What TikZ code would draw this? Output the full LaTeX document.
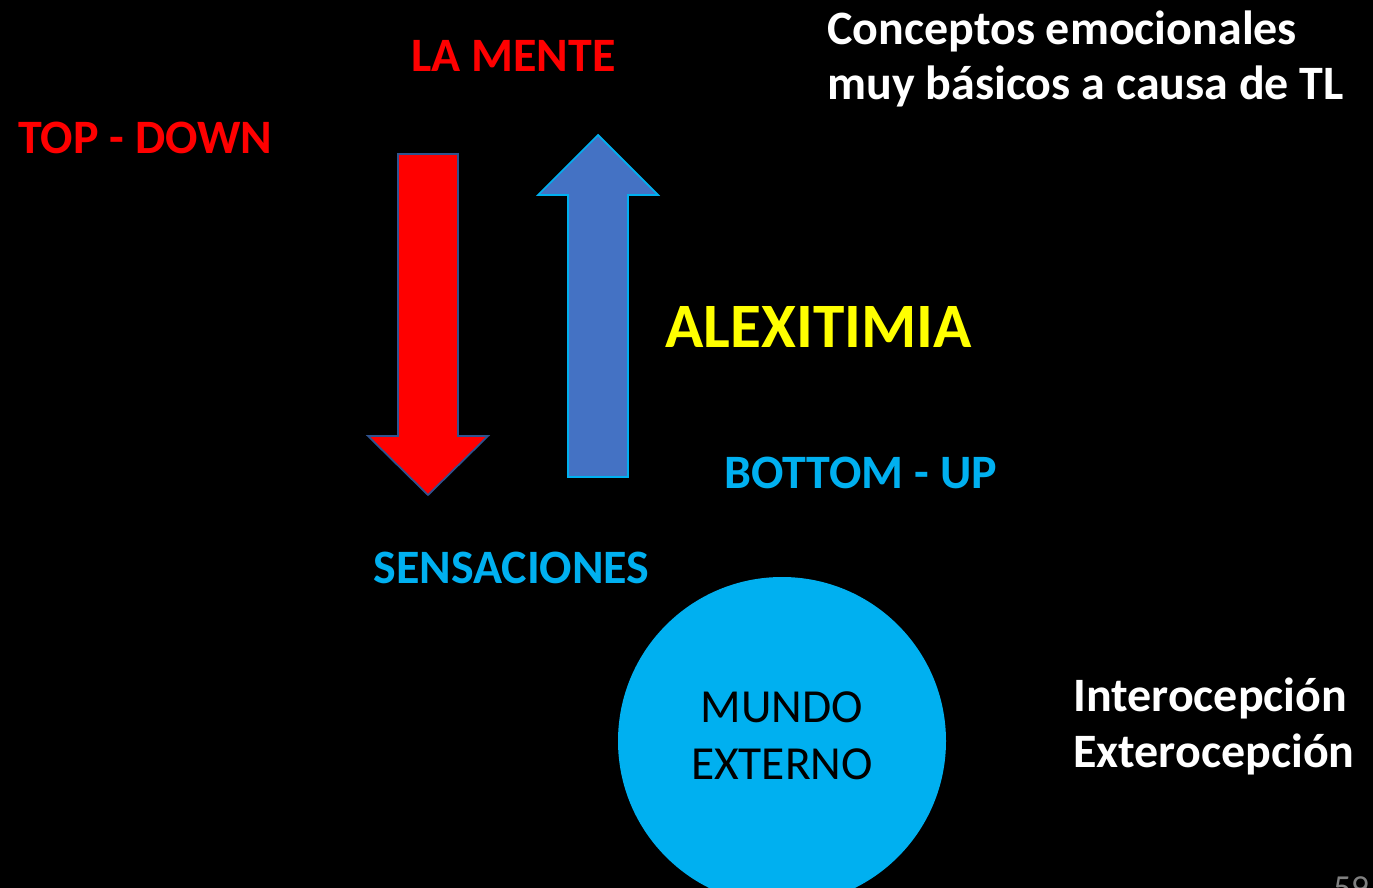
\documentclass[tikz,border=0pt]{standalone}
\usepackage{fontspec}
\setmainfont{Carlito}
\usepackage{xcolor}
\definecolor{celeste}{HTML}{00B0F0}
\definecolor{azularrow}{HTML}{4472C4}
\definecolor{bordeazul}{HTML}{2F528F}
\definecolor{amarillo}{HTML}{FFFF00}
\definecolor{rojo}{HTML}{FF0000}

\tikzset{
  titulo/.style={inner sep=0pt, anchor=base west, font=\fontsize{27.3}{32}\selectfont\bfseries},
  bloque/.style={titulo, align=left, font=\fontsize{27.3}{31.75}\selectfont\bfseries}
}

\begin{document}
\begin{tikzpicture}[x=0.02cm,y=-0.02cm]
\fill[black] (0,0) rectangle (1373,888);
\useasboundingbox (0,0) rectangle (1373,888);

% flecha hacia abajo
\filldraw[fill=rojo, draw=bordeazul, line width=1pt] (398,154) -- (458,154) -- (458,436) -- (488,436) -- (428,495) -- (368,436) -- (398,436) -- cycle;
% flecha hacia arriba
\filldraw[fill=azularrow, draw=celeste, line width=1pt] (568,477) -- (628,477) -- (628,195) -- (658,195) -- (598,135) -- (538,195) -- (568,195) -- cycle;

% mundo externo
\fill[celeste] (782,741) circle (164);
\node[align=center, inner sep=0pt, font=\fontsize{27}{32.5}\selectfont] (mundo) at (782,736) {MUNDO\\EXTERNO};

\node[titulo, text=rojo] (topdown) at (18,154) {TOP - DOWN};
\node[titulo, text=rojo] (mente) at (411,72) {LA MENTE};
\node[titulo, text=amarillo, font=\fontsize{36}{40}\selectfont\bfseries] (alexi) at (665,348) {ALEXITIMIA};
\node[titulo, text=celeste] (bottomup) at (724,488) {BOTTOM - UP};
\node[titulo, text=celeste] (sensa) at (373,583) {SENSACIONES};
\node[bloque, text=white] (conceptos) at (827,100) {Conceptos emocionales\\muy básicos a causa de TL};
\node[bloque, text=white] (intero) at (1073,767) {Interocepción\\Exterocepción};
\node[inner sep=0pt, anchor=north west, text=gray, font=\fontsize{20}{24}\selectfont] (pagina) at (1333,876) {59};
\end{tikzpicture}
\end{document}
